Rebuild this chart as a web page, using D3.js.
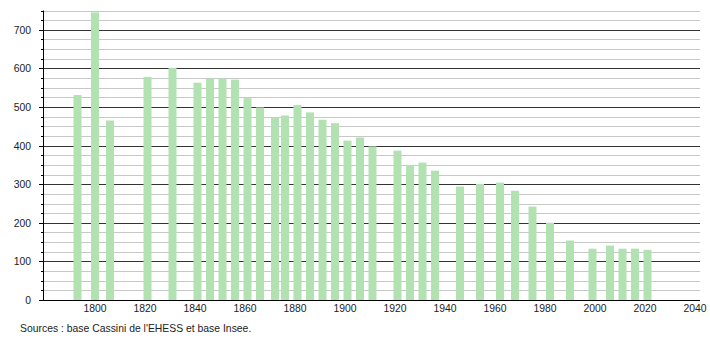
<!DOCTYPE html>
<html><head><meta charset="utf-8">
<script src="https://cdn.jsdelivr.net/npm/d3@7/dist/d3.min.js"></script>
<style>body{margin:0;background:#fff}svg{display:block}text{font-family:"Liberation Sans",Arial,sans-serif}</style>
</head><body><svg id="c" width="710" height="340"></svg>
<script>
const years = [1793,1800,1806,1821,1831,1841,1846,1851,1856,1861,1866,1872,1876,1881,1886,1891,1896,1901,1906,1911,1921,1926,1931,1936,1946,1954,1962,1968,1975,1982,1990,1999,2006,2011,2016,2021];
const population = [531,745,465,578,601,563,574,574,571,523,499,473,478,505,486,467,458,413,421,398,387,350,356,335,294,301,304,283,242,200,154,133,141,133,133,130];
const xTicks = [1800,1820,1840,1860,1880,1900,1920,1940,1960,1980,2000,2020,2040];
const yTicks = [0,100,200,300,400,500,600,700];
const sourceText = "Sources : base Cassini de l'EHESS et base Insee.";

const svg = d3.select("#c");
const x = d3.scaleLinear().domain([1780, 2042]).range([45, 700]);
const y = d3.scaleLinear().domain([0, 750]).range([300, 10.5]);
const x0 = 44, x1 = 700;

const minor = d3.range(25, 751, 25).filter(v => v % 100 !== 0);
svg.append("g").selectAll("line").data(minor).join("line")
  .attr("x1", x0).attr("x2", x1)
  .attr("y1", d => Math.round(y(d)) + 0.5).attr("y2", d => Math.round(y(d)) + 0.5)
  .attr("stroke", "#c8c8c8").attr("stroke-width", 1);
svg.append("g").selectAll("line").data(yTicks.filter(v => v > 0)).join("line")
  .attr("x1", x0).attr("x2", x1)
  .attr("y1", d => Math.round(y(d)) + 0.5).attr("y2", d => Math.round(y(d)) + 0.5)
  .attr("stroke", "#333").attr("stroke-width", 1);

svg.append("g").selectAll("rect").data(years).join("rect")
  .attr("x", d => x(d) - 4).attr("width", 8)
  .attr("y", (d, i) => y(population[i]))
  .attr("height", (d, i) => y(0) - y(population[i]))
  .attr("fill", "#b2e2b2");

// y axis
svg.append("line").attr("x1", x0 - 0.5).attr("x2", x0 - 0.5).attr("y1", y(750)).attr("y2", y(0)).attr("stroke", "#000");
svg.append("g").selectAll("line").data(minor).join("line")
  .attr("x1", x0 - 3).attr("x2", x0)
  .attr("y1", d => Math.round(y(d)) + 0.5).attr("y2", d => Math.round(y(d)) + 0.5)
  .attr("stroke", "#000");
svg.append("g").selectAll("line").data(yTicks).join("line")
  .attr("x1", x0 - 5).attr("x2", x0)
  .attr("y1", d => Math.round(y(d)) + 0.5).attr("y2", d => Math.round(y(d)) + 0.5)
  .attr("stroke", "#000");
svg.append("line").attr("x1", x0 - 5).attr("x2", x1).attr("y1", Math.round(y(0)) + 0.5).attr("y2", Math.round(y(0)) + 0.5).attr("stroke", "#000");

svg.append("g").selectAll("text").data(yTicks).join("text")
  .attr("x", 31).attr("y", d => y(d) + 4)
  .attr("text-anchor", "end").attr("font-size", 10.4).attr("fill", "#222")
  .text(d => d);
svg.append("g").selectAll("text").data(xTicks).join("text")
  .attr("x", d => x(d)).attr("y", 312)
  .attr("text-anchor", "middle").attr("font-size", 10.4).attr("fill", "#222")
  .text(d => d);
svg.append("text").attr("x", 20).attr("y", 332).attr("font-size", 10.4).attr("fill", "#222").text(sourceText);
</script></body></html>
